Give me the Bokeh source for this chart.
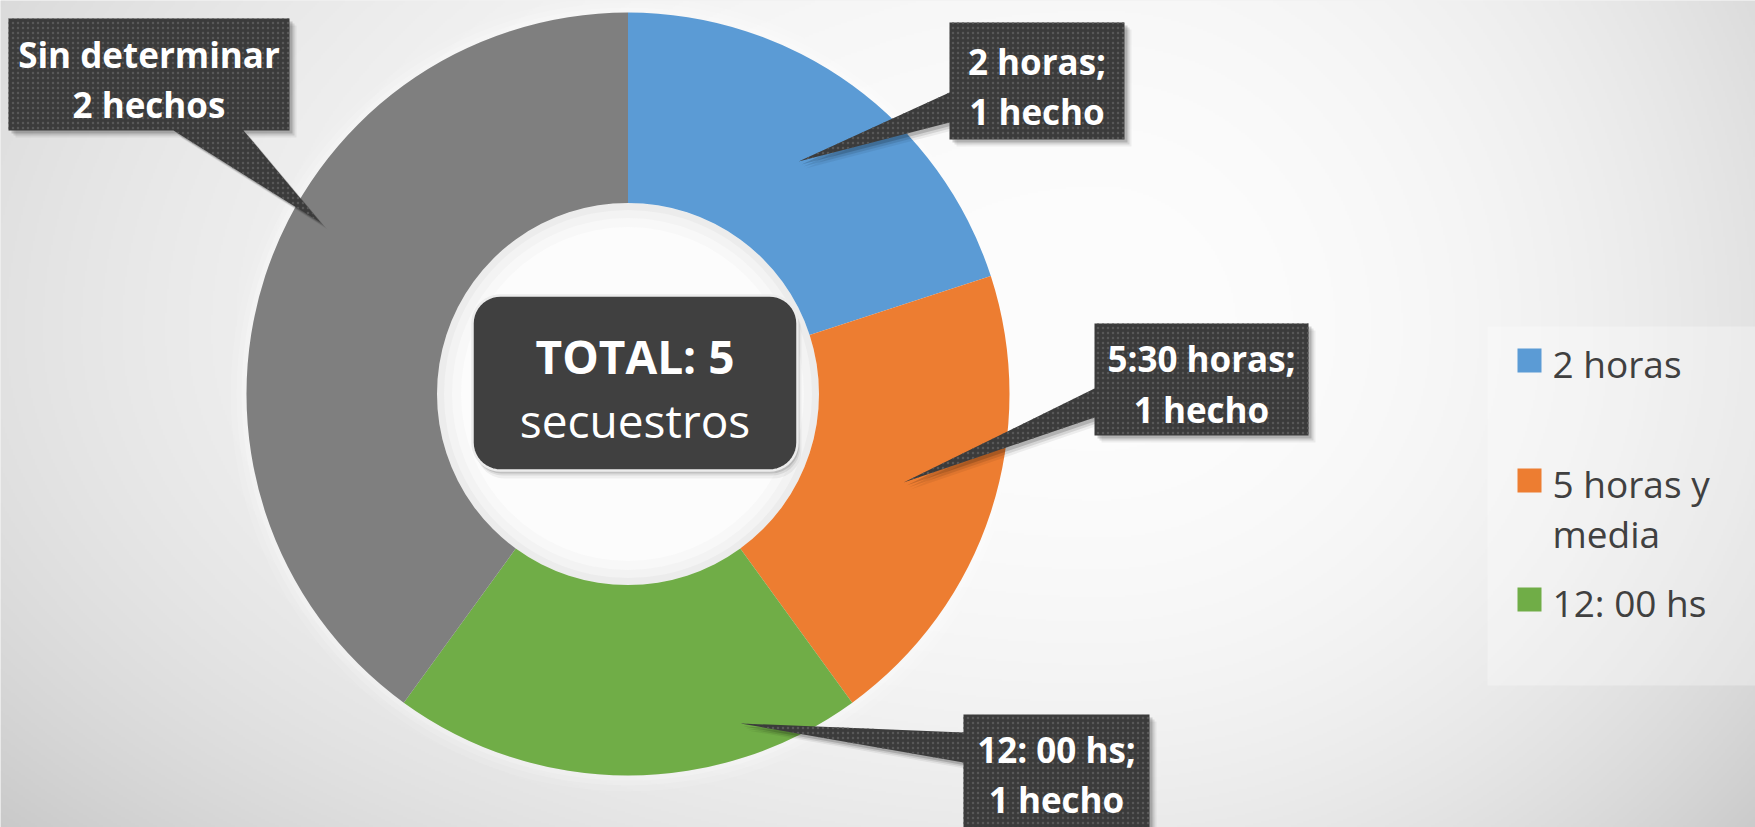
import numpy as np
from bokeh.plotting import figure
from bokeh.models import Range1d
from bokeh.core.properties import value
from bokeh.embed import file_html
from bokeh.resources import INLINE

# ---------------- data ----------------
categories = ["2 horas", "5 horas y media", "12: 00 hs", "Sin determinar"]
values = [1, 1, 1, 2]
colors = ["#5B9BD5", "#ED7D31", "#70AD47", "#7F7F7F"]
label_line1 = ["2 horas;", "5:30 horas;", "12: 00 hs;", "Sin determinar"]
label_line2 = ["1 hecho", "1 hecho", "1 hecho", "2 hechos"]
legend_lines = [["2 horas"], ["5 horas y", "media"], ["12: 00 hs"]]
total_word = "TOTAL"
total_sub = "secuestros"

FONT = value("Open Sans")
DESC = 0.27  # baseline correction (fraction of font size)

# ---------------- figure ----------------
W, H = 1755, 827
p = figure(width=W, height=H, x_range=Range1d(0, W), y_range=Range1d(-H, 0),
           output_backend="svg", toolbar_location=None, min_border=0,
           x_axis_location=None, y_axis_location=None)
p.grid.visible = False
p.outline_line_color = None
p.background_fill_color = "#e6e6e6"
p.border_fill_color = "#e6e6e6"

# background radial gradient (decoration)
nx, ny = 878, 414
xs = np.linspace(0, W, nx)
ys = np.linspace(H, 0, ny)  # row 0 = bottom
X, Y = np.meshgrid(xs, ys)
cxg, cyg = 1100.0, 330.0
sx = np.where(X < cxg, 1400.0, 850.0)
sy = np.where(Y < cyg, 900.0, 750.0)
t2 = ((X - cxg) / sx) ** 2 + ((Y - cyg) / sy) ** 2
B = np.clip(253 - 38 * t2 - 10 * t2 ** 2, 185, 253).astype(np.uint8)
img = np.empty((ny, nx, 4), dtype=np.uint8)
img[..., 0] = B
img[..., 1] = B
img[..., 2] = B
img[..., 3] = 255
img32 = img.view(dtype=np.uint32).reshape((ny, nx))
p.image_rgba(image=[img32], x=0, y=-H, dw=W, dh=H)

# ---------------- donut ----------------
cx, cy = 627.5, -393.5
R_out, R_in = 381.5, 191.0
vals = np.array(values, dtype=float)
frac = vals / vals.sum()
cum = np.concatenate([[0.0], np.cumsum(frac)[:-1]])
start = np.pi / 2 - 2 * np.pi * cum
end = start - 2 * np.pi * frac

# soft glow around the ring
for k, a in [(16, 0.10), (10, 0.15), (5, 0.2)]:
    p.annular_wedge(x=cx, y=cy, inner_radius=R_out, outer_radius=R_out + k,
                    start_angle=0, end_angle=2 * np.pi, fill_color="white",
                    fill_alpha=a, line_color=None)
# inner hole: white centre with slight shading at the rim
p.circle(x=cx, y=cy, radius=R_in, fill_color="#fcfcfc", line_color=None)
for k, a in [(24, 0.04), (15, 0.05), (7, 0.07)]:
    p.annular_wedge(x=cx, y=cy, inner_radius=R_in - k, outer_radius=R_in,
                    start_angle=0, end_angle=2 * np.pi, fill_color="#9a9a9a",
                    fill_alpha=a, line_color=None)

p.annular_wedge(x=cx, y=cy, inner_radius=R_in, outer_radius=R_out,
                start_angle=start, end_angle=end, direction="clock",
                fill_color=colors, line_color=None)

# ---------------- callouts (layout) ----------------
boxes = [
    (949, 22, 1124, 139),
    (1094, 323, 1308, 435),
    (963, 714, 1149, 860),
    (8, 18, 289, 130),
]
pointers = [
    [(949, 122), (798, 161), (949, 92)],
    [(1094, 417), (903, 482), (1094, 388)],
    [(963, 762), (740, 723), (963, 732)],
    [(243, 130), (320, 222), (173, 130)],
]
baselines = [(70, 120), (367, 418), (758, 808), (63, 113)]

polys_x, polys_y = [], []
for i, (l, t, r, b) in enumerate(boxes):
    ptr = pointers[i]
    if i < 3:  # pointer on left edge
        pts = [(l, t), (r, t), (r, b), (l, b)] + ptr
    else:      # pointer on bottom edge
        pts = [(l, t), (r, t), (r, b)] + ptr + [(l, b)]
    polys_x.append([q[0] for q in pts])
    polys_y.append([-q[1] for q in pts])

# shadows
for off, a in [(7, 0.06), (5, 0.10), (3, 0.16)]:
    p.patches(xs=[[v + off for v in px] for px in polys_x],
              ys=[[v - off for v in py] for py in polys_y],
              fill_color="black", fill_alpha=a, line_color=None)
p.patches(xs=polys_x, ys=polys_y, fill_color="#3b3b3b", line_color=None,
          hatch_pattern="dot", hatch_color="#585858", hatch_scale=5, hatch_weight=1.5)

LS = 35
lx = [(bx[0] + bx[2]) / 2 for bx in boxes]
p.text(x=lx, y=[-(b[0] - DESC * LS) for b in baselines], text=label_line1, text_font=FONT,
       text_font_size=f"{LS}px", text_font_style="bold", text_color="white",
       text_align="center", text_baseline="alphabetic")
p.text(x=lx, y=[-(b[1] - DESC * LS) for b in baselines], text=label_line2, text_font=FONT,
       text_font_size=f"{LS}px", text_font_style="bold", text_color="white",
       text_align="center", text_baseline="alphabetic")

# ---------------- centre total box ----------------
def rounded_rect(l, t, r, b, rad, n=12):
    pts = []
    for (ccx, ccy, a0) in [(r - rad, t + rad, -90), (r - rad, b - rad, 0),
                           (l + rad, b - rad, 90), (l + rad, t + rad, 180)]:
        for a in np.linspace(a0, a0 + 90, n):
            pts.append((ccx + rad * np.cos(np.radians(a)), ccy + rad * np.sin(np.radians(a))))
    return [q[0] for q in pts], [-q[1] for q in pts]

bx_, by_ = rounded_rect(472, 295, 797, 470, 28)
for off, a in [(8, 0.05), (5, 0.08), (3, 0.12)]:
    p.patch(x=[v + off * 0.5 for v in bx_], y=[v - off for v in by_],
            fill_color="black", fill_alpha=a, line_color=None)
p.patch(x=bx_, y=by_, fill_color="#404040", line_color="#ececec", line_width=2.5)
CS = 46
p.text(x=[634.5], y=[-(368 - DESC * CS)], text=[f"{total_word}: {int(vals.sum())}"], text_font=FONT,
       text_font_size=f"{CS}px", text_font_style="bold", text_color="white",
       text_align="center", text_baseline="alphabetic")
p.text(x=[634.5], y=[-(432 - DESC * CS)], text=[total_sub], text_font=FONT,
       text_font_size=f"{CS}px", text_color="white",
       text_align="center", text_baseline="alphabetic")

# ---------------- legend ----------------
p.quad(left=1487, right=1800, top=-326, bottom=-685, fill_color="white",
       fill_alpha=0.3, line_color=None)
leg_centers = [360, 480, 599]
n_leg = len(legend_lines)
p.rect(x=[1529] * n_leg, y=[-c for c in leg_centers], width=24, height=24,
       fill_color=colors[:n_leg], line_color=None)
GS = 37
tx, ty, tt = [], [], []
for i, lines in enumerate(legend_lines):
    for j, line in enumerate(lines):
        tx.append(1552)
        ty.append(-(leg_centers[i] + 13 + 50 * j - DESC * GS))
        tt.append(line)
p.text(x=tx, y=ty, text=tt, text_font=FONT, text_font_size=f"{GS}px",
       text_color="#404040", text_align="left", text_baseline="alphabetic")

open("out.html", "w").write(file_html(p, INLINE))
